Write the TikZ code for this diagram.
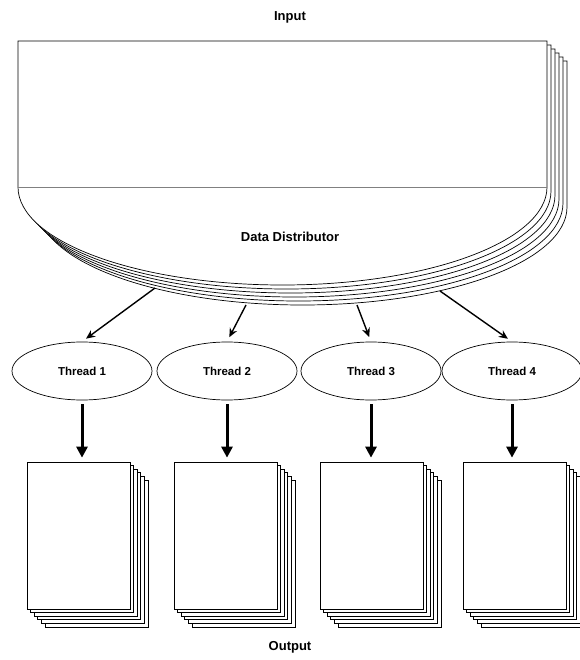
\documentclass[tikz,border=0pt]{standalone}
\usepackage{fontspec}
\setmainfont{Liberation Sans}
\usetikzlibrary{shapes.geometric,arrows.meta,positioning}

\tikzset{
  caption/.style={font=\bfseries\fontsize{13}{15}\selectfont},
  thread/.style={ellipse,draw,fill=white,minimum width=140pt,minimum height=58pt,inner sep=0pt,font=\bfseries\fontsize{11.5}{13}\selectfont},
  page/.style={rectangle,draw,fill=white,minimum width=103pt,minimum height=147pt,inner sep=0pt},
  split arrow/.style={-{Stealth[length=9pt,width=8pt]},line width=1.4pt,shorten >=5pt},
  out arrow/.style={-{Triangle[length=11pt,width=11pt]},line width=3pt,shorten <=4pt,shorten >=4pt},
}

% stack of pages: name, centre of the front page (x,y)
\newcommand{\pagestack}[2]{
  \foreach \k in {5,4,...,1} \node[page] at ([shift={(3.6*\k,3.6*\k)}]#2) {};
  \node[page] (#1) at (#2) {};
}

\begin{document}
\begin{tikzpicture}[x=1pt,y=-1pt,line width=0.7pt]
    \useasboundingbox (0,0) rectangle (579,660);

    \node[caption] (input) at (290,17) {Input};

    % Distributor, drawn back to front
    \foreach \k in {5,4,...,0}
      \draw[fill=white,shift={(4*\k,4*\k)}] (18,41) -- (547,41) -- (547,187)
        arc[start angle=0,end angle=180,x radius=264.5,y radius=98] -- cycle;
    \draw[gray] (18,187) -- (547,187);
    \node[caption] (dist) at (290,237) {Data Distributor};

    % Exit points on the distributor
    \coordinate (d1) at (155,288);
    \coordinate (d2) at (246,305);
    \coordinate (d3) at (357,305);
    \coordinate (d4) at (440,291);

    % Threads
    \node[thread] (t1) at (82,371) {Thread 1};
    \node[thread] (t2) at (227,371) {Thread 2};
    \node[thread] (t3) at (371,371) {Thread 3};
    \node[thread] (t4) at (512,371) {Thread 4};

    \draw[split arrow] (d1) -- (t1.north);
    \draw[split arrow] (d2) -- (t2.north);
    \draw[split arrow] (d3) -- (t3.north);
    \draw[split arrow] (d4) -- (t4.north);

    % Output pages
    \pagestack{p1}{78.5,535.5}
    \pagestack{p2}{225.5,535.5}
    \pagestack{p3}{371.5,535.5}
    \pagestack{p4}{514.5,535.5}

    \draw[out arrow] (t1.south) -- (t1.south |- p1.north);
    \draw[out arrow] (t2.south) -- (t2.south |- p2.north);
    \draw[out arrow] (t3.south) -- (t3.south |- p3.north);
    \draw[out arrow] (t4.south) -- (t4.south |- p4.north);

    \node[caption] (output) at (290,647) {Output};
\end{tikzpicture}
\end{document}
